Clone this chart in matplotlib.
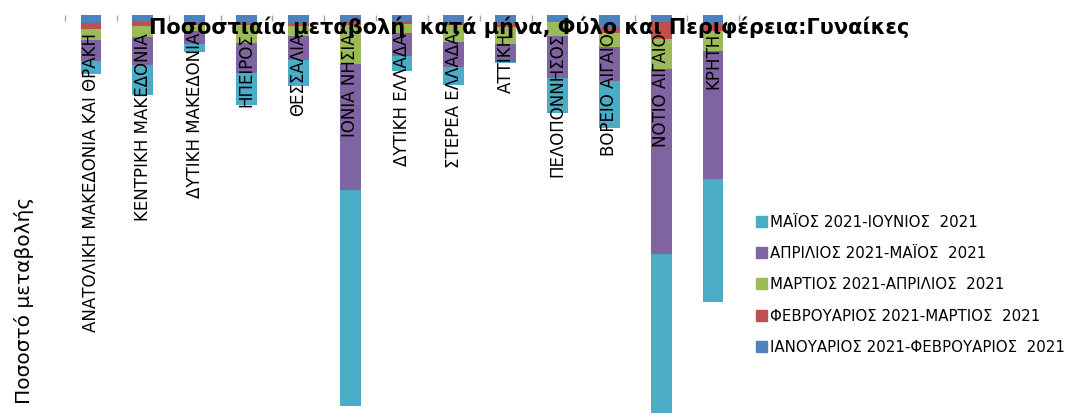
import numpy as np
import matplotlib
matplotlib.use("Agg")
import matplotlib.pyplot as plt
from matplotlib.patches import Patch
import matplotlib.transforms as mtransforms

# regions (x categories)
regions = ["ΑΝΑΤΟΛΙΚΗ ΜΑΚΕΔΟΝΙΑ ΚΑΙ ΘΡΑΚΗ", "ΚΕΝΤΡΙΚΗ ΜΑΚΕΔΟΝΙΑ", "ΔΥΤΙΚΗ ΜΑΚΕΔΟΝΙΑ",
           "ΗΠΕΙΡΟΣ", "ΘΕΣΣΑΛΙΑ", "ΙΟΝΙΑ ΝΗΣΙΑ", "ΔΥΤΙΚΗ ΕΛΛΑΔΑ", "ΣΤΕΡΕΑ ΕΛΛΑΔΑ",
           "ΑΤΤΙΚΗ", "ΠΕΛΟΠΟΝΝΗΣΟΣ", "ΒΟΡΕΙΟ ΑΙΓΑΙΟ", "ΝΟΤΙΟ ΑΙΓΑΙΟ", "ΚΡΗΤΗ"]

# percentage change per month pair (negative, stacked downward)
jan_feb = [-1.9, -1.3, -2.0, -1.9, -1.9, -1.5, -1.5, -1.8, -1.9, -1.6, -2.8, -1.7, -2.1]
feb_mar = [-1.4, -1.4, -0.5, -0.4, -0.85, -0.8, -0.6, -0.6, -1.0, -0.1, -1.5, -4.3, -1.9]
mar_apr = [-2.8, -2.7, -1.5, -4.6, -2.5, -9.8, -2.4, -4.2, -4.3, -3.5, -3.7, -7.5, -4.8]
apr_may = [-5.2, -7.1, -3.2, -7.5, -6.0, -31.5, -5.6, -6.3, -4.5, -10.5, -8.3, -46.2, -32.1]
may_jun = [-3.3, -7.3, -2.0, -7.9, -6.3, -54.0, -3.7, -4.5, -0.3, -8.7, -11.8, -39.8, -30.7]

series = [jan_feb, feb_mar, mar_apr, apr_may, may_jun]
labels = ["ΙΑΝΟΥΑΡΙΟΣ 2021-ΦΕΒΡΟΥΑΡΙΟΣ  2021", "ΦΕΒΡΟΥΑΡΙΟΣ 2021-ΜΑΡΤΙΟΣ  2021",
          "ΜΑΡΤΙΟΣ 2021-ΑΠΡΙΛΙΟΣ  2021", "ΑΠΡΙΛΙΟΣ 2021-ΜΑΪΟΣ  2021",
          "ΜΑΪΟΣ 2021-ΙΟΥΝΙΟΣ  2021"]
colors = ["#4F81BD", "#C0504D", "#9BBB59", "#8064A2", "#4BACC6"]

fig = plt.figure(figsize=(10.74, 4.15), dpi=100)
ax = fig.add_axes([65 / 1074, 0.0, (739 - 65) / 1074, 1 - 15.5 / 415])

x = np.arange(len(regions))
bottom = np.zeros(len(regions))
for vals, lab, col in zip(series, labels, colors):
    vals = np.array(vals)
    ax.bar(x, vals, bottom=bottom, width=0.4, color=col, label=lab, edgecolor="none")
    bottom = bottom + vals

ax.set_xlim(-0.5, len(regions) - 0.5)
ax.set_ylim(-99.9, 0)
for s in ax.spines.values():
    s.set_visible(False)
ax.set_yticks([])
ax.set_xticks(np.arange(len(regions) + 1) - 0.5)
ax.set_xticklabels([])
ax.xaxis.set_ticks_position("top")
ax.tick_params(axis="x", direction="in", length=4, color="#A6A6A6", width=1)

# category labels, rotated, hanging from the top
trans = mtransforms.blended_transform_factory(ax.transData, fig.transFigure)
for xi, name in zip(x, regions):
    ax.text(xi, 1 - 33 / 415, name, rotation=90, ha="center", va="top",
            fontsize=12, transform=trans, clip_on=False)

fig.text(529 / 1074, 1 - 27 / 415, "Ποσοστιαία μεταβολή  κατά μήνα, Φύλο και Περιφέρεια:Γυναίκες",
         ha="center", va="center", fontsize=15, fontweight="bold")

fig.text(24 / 1074, 1 - 197 / 415, "Ποσοστό μεταβολής", rotation=90, ha="center", va="top",
         fontsize=14.5)

handles = [Patch(color=c) for c in colors][::-1]
fig.legend(handles, labels[::-1], loc="upper left", bbox_to_anchor=(742 / 1074, 1 - 201 / 415),
           frameon=False, fontsize=10.8, handlelength=0.75, handleheight=0.75,
           handletextpad=0.25, labelspacing=1.09)

fig.savefig("out.png", dpi=100)
